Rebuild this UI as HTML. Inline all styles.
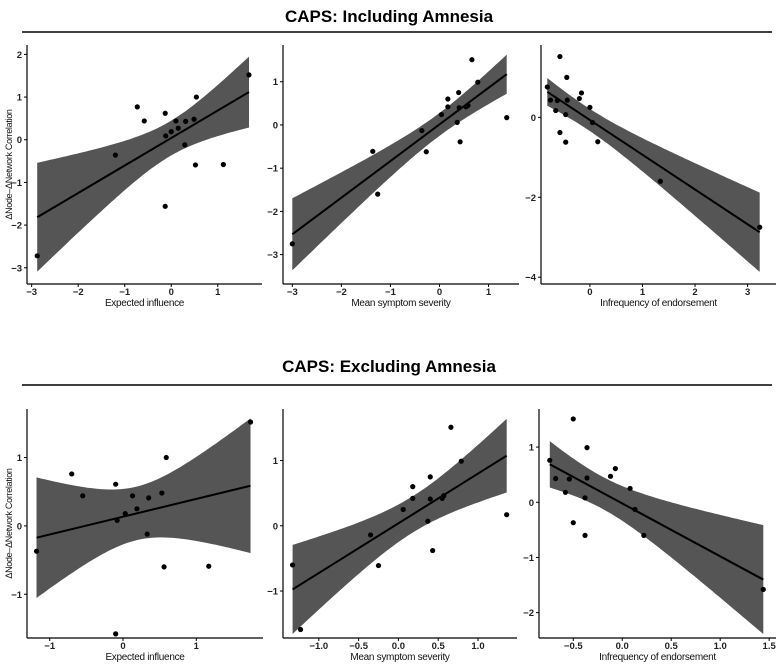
<!DOCTYPE html>
<html><head><meta charset="utf-8">
<style>
html,body{margin:0;padding:0;background:#fff;}
svg{display:block;font-family:"Liberation Sans",Arial,sans-serif;}
</style></head>
<body>
<svg id="chart" width="778" height="670" viewBox="0 0 778 670">
  <text x="389" y="22" text-anchor="middle" font-size="17" font-weight="bold">CAPS: Including Amnesia</text>
  <line x1="22" y1="32" x2="772" y2="32" stroke="#000" stroke-width="1.5"/>
  <text x="389" y="372" text-anchor="middle" font-size="17" font-weight="bold">CAPS: Excluding Amnesia</text>
  <line x1="22" y1="385" x2="772" y2="385" stroke="#000" stroke-width="1.5"/>
</svg>
<script>
// ---- data ----
const inclEIx = [-2.88,-1.2,-0.73,-0.58,-0.13,-0.12,-0.13,0.0,0.1,0.15,0.29,0.31,0.49,0.54,0.52,1.12,1.67];
const inclEIy = [-2.72,-0.36,0.77,0.44,0.62,0.09,-1.56,0.19,0.44,0.27,-0.12,0.43,0.48,1.0,-0.59,-0.58,1.52];
const inclMSx = [-3.0,-1.36,-1.26,-0.36,-0.27,0.04,0.17,0.17,0.36,0.39,0.40,0.42,0.54,0.58,0.66,0.78,1.37];
const inclMSy = [-2.75,-0.61,-1.6,-0.13,-0.62,0.24,0.42,0.6,0.06,0.75,0.4,-0.39,0.42,0.45,1.51,0.99,0.17];
const inclIEx = [-0.81,-0.75,-0.65,-0.62,-0.57,-0.57,-0.46,-0.46,-0.44,-0.43,-0.2,-0.16,0.0,0.05,0.15,1.34,3.23];
const inclIEy = [0.76,0.43,0.17,0.42,1.52,-0.38,0.07,-0.62,1.0,0.43,0.47,0.61,0.25,-0.13,-0.61,-1.6,-2.75];
const exclEIx = [-1.18,-0.70,-0.55,-0.10,-0.08,-0.10,0.03,0.13,0.19,0.33,0.35,0.53,0.59,0.56,1.17,1.74];
const exclEIy = [-0.37,0.76,0.44,0.61,0.08,-1.58,0.18,0.44,0.25,-0.12,0.41,0.48,1.0,-0.6,-0.59,1.52];
const exclMSx = [-1.33,-1.23,-0.35,-0.25,0.06,0.18,0.18,0.37,0.40,0.40,0.43,0.55,0.57,0.66,0.79,1.36];
const exclMSy = [-0.6,-1.59,-0.14,-0.61,0.25,0.6,0.42,0.07,0.75,0.41,-0.38,0.42,0.46,1.51,0.99,0.17];
const exclIEx = [-0.74,-0.68,-0.58,-0.54,-0.50,-0.50,-0.38,-0.38,-0.36,-0.36,-0.12,-0.07,0.08,0.13,0.22,1.44];
const exclIEy = [0.76,0.43,0.18,0.42,1.51,-0.37,0.08,-0.60,0.99,0.44,0.47,0.61,0.25,-0.13,-0.60,-1.58];
const xTicks1 = [-3,-2,-1,0,1];
const yTicks1 = [-3,-2,-1,0,1,2];
const xTicks2 = [-3,-2,-1,0,1];
const yTicks2 = [-3,-2,-1,0,1];
const xTicks3 = [0,1,2,3];
const yTicks3 = [-4,-2,0];
const xTicks4 = [-1,0,1];
const yTicks4 = [-1,0,1];
const xTicks5 = [-1.0,-0.5,0.0,0.5,1.0];
const yTicks5 = [-1,0,1];
const xTicks6 = [-0.5,0.0,0.5,1.0,1.5];
const yTicks6 = [-2,-1,0,1];

const NS = "http://www.w3.org/2000/svg";
const svg = document.getElementById('chart');
function mk(tag, attrs, parent){
  const e = document.createElementNS(NS, tag);
  for (const k in attrs) e.setAttribute(k, attrs[k]);
  (parent||svg).appendChild(e);
  return e;
}
function tq(df){ const t={12:2.179,13:2.160,14:2.145,15:2.131,16:2.120}; return t[df]||2.1; }

function panel(cfg){
  const g = mk('g', {});
  
  
  const {L,R,T,B,xd,yd} = cfg;
  const sx = v => L + (v - xd[0]) / (xd[1]-xd[0]) * (R-L);
  const sy = v => B - (v - yd[0]) / (yd[1]-yd[0]) * (B-T);
  const xs = cfg.x, ys = cfg.y, n = xs.length;
  const mx = xs.reduce((a,b)=>a+b,0)/n, my = ys.reduce((a,b)=>a+b,0)/n;
  let sxx=0, sxy=0;
  for (let i=0;i<n;i++){ sxx+=(xs[i]-mx)**2; sxy+=(xs[i]-mx)*(ys[i]-my); }
  const b = sxy/sxx, a = my - b*mx;
  let sse=0; for (let i=0;i<n;i++) sse += (ys[i]-a-b*xs[i])**2;
  const s = Math.sqrt(sse/(n-2)), t = tq(n-2);
  const x0 = Math.min(...xs), x1 = Math.max(...xs);
  const up=[], lo=[];
  for (let k=0;k<=80;k++){
    const xv = x0 + (x1-x0)*k/80;
    const f = a + b*xv, se = s*Math.sqrt(1/n + (xv-mx)**2/sxx);
    up.push(sx(xv).toFixed(1)+','+sy(f+t*se).toFixed(1));
    lo.unshift(sx(xv).toFixed(1)+','+sy(f-t*se).toFixed(1));
  }
  const band = mk('polygon', {points: up.concat(lo).join(' '), fill:'#555555'}, g);
  
  
  const line = mk('line', {x1:sx(x0), y1:sy(a+b*x0), x2:sx(x1), y2:sy(a+b*x1), stroke:'#000', 'stroke-width':2}, g);
  
  
  for (let i=0;i<n;i++){
    const c = mk('circle', {cx:sx(xs[i]), cy:sy(ys[i]), r:2.6, fill:'#000'}, g);
    
    
  }
  const ax = mk('line', {x1:L, y1:B, x2:R, y2:B, stroke:'#000', 'stroke-width':1.2}, g);
  
  
  const ay = mk('line', {x1:L, y1:T, x2:L, y2:B, stroke:'#000', 'stroke-width':1.2}, g);
  
  
  cfg.xt.forEach(v=>{
    mk('line', {x1:sx(v), y1:B, x2:sx(v), y2:B+3, stroke:'#000'}, g);
    const tx = mk('text', {x:sx(v), y:B+11, 'text-anchor':'middle', 'font-size':9.5, 'font-weight':'bold', fill:'#222'}, g);
    tx.textContent = cfg.xf ? v.toFixed(1).replace('-','−') : String(v).replace('-','−');
    
    
  });
  cfg.yt.forEach(v=>{
    mk('line', {x1:L-3, y1:sy(v), x2:L, y2:sy(v), stroke:'#000'}, g);
    const ty = mk('text', {x:L-5, y:sy(v)+3.5, 'text-anchor':'end', 'font-size':9.5, 'font-weight':'bold', fill:'#222'}, g);
    ty.textContent = String(v).replace('-','−');
    
    
  });
  const xt = mk('text', {x:(L+R)/2, y:B+22, 'text-anchor':'middle', 'font-size':10, fill:'#111', 'letter-spacing':'-0.3'}, g);
  xt.textContent = cfg.xlab;
  
  
  if (cfg.ylab){
    const cy = (T+B)/2;
    const yt = mk('text', {x:12, y:cy, 'text-anchor':'middle', 'font-size':9, fill:'#111', 'letter-spacing':'-0.3', transform:`rotate(-90 12 ${cy})`}, g);
    yt.textContent = cfg.ylab;
    
    
  }
}
const YL = 'ΔNode–ΔNetwork Correlation';
panel({name:'panel-incl-expected-influence', L:27,R:262,T:45,B:284, xd:[-3.10,1.95], yd:[-3.38,2.22], x:inclEIx, y:inclEIy, xt:xTicks1, yt:yTicks1, xlab:'Expected influence', ylab:YL});
panel({name:'panel-incl-mean-severity', L:283,R:519,T:45,B:284, xd:[-3.19,1.62], yd:[-3.68,1.85], x:inclMSx, y:inclMSy, xt:xTicks2, yt:yTicks2, xlab:'Mean symptom severity'});
panel({name:'panel-incl-infrequency', L:541,R:776,T:45,B:284, xd:[-0.93,3.54], yd:[-4.17,1.81], x:inclIEx, y:inclIEy, xt:xTicks3, yt:yTicks3, xlab:'Infrequency of endorsement'});
panel({name:'panel-excl-expected-influence', L:27,R:263,T:409,B:638, xd:[-1.31,1.91], yd:[-1.64,1.71], x:exclEIx, y:exclEIy, xt:xTicks4, yt:yTicks4, xlab:'Expected influence', ylab:YL});
panel({name:'panel-excl-mean-severity', L:283,R:517,T:409,B:638, xd:[-1.45,1.49], yd:[-1.72,1.79], x:exclMSx, y:exclMSy, xt:xTicks5, yt:yTicks5, xlab:'Mean symptom severity', xf:true});
panel({name:'panel-excl-infrequency', L:539,R:776,T:409,B:638, xd:[-0.85,1.57], yd:[-2.46,1.69], x:exclIEx, y:exclIEy, xt:xTicks6, yt:yTicks6, xlab:'Infrequency of endorsement', xf:true});
</script>
</body></html>
